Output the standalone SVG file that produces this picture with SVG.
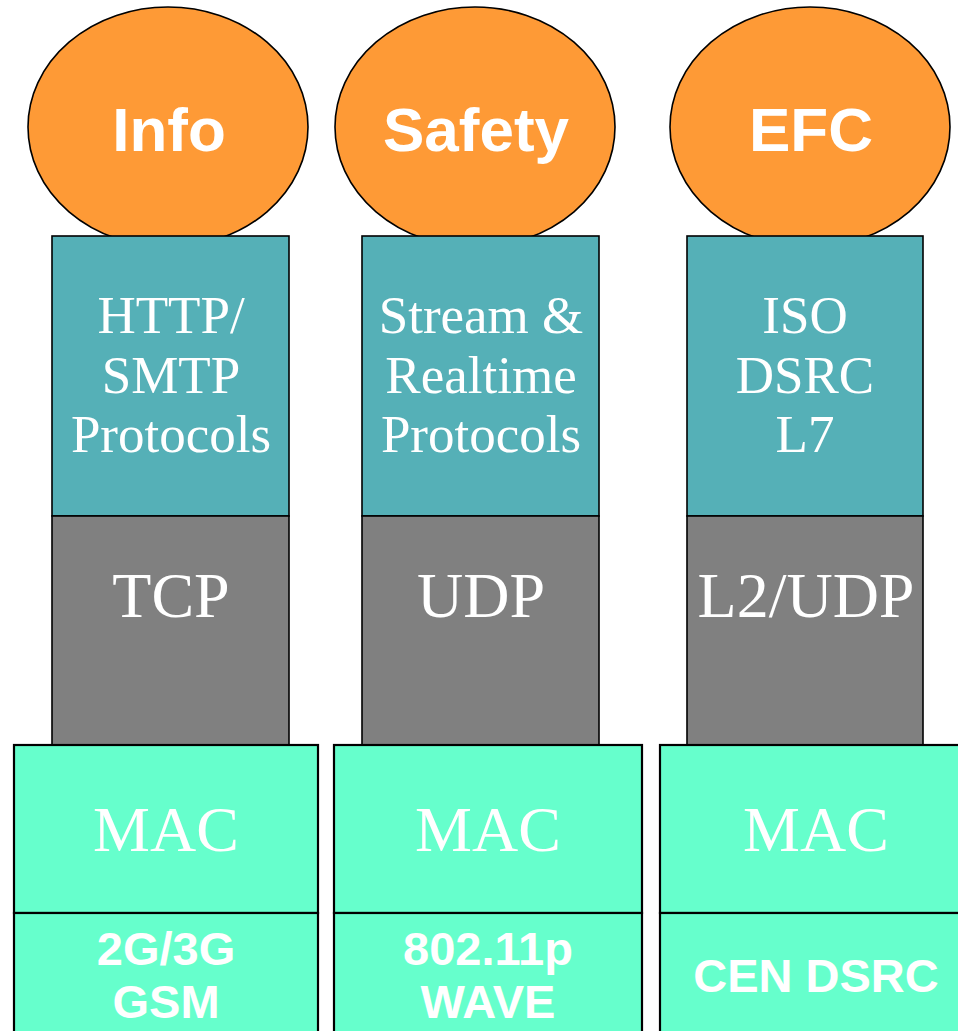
<svg xmlns="http://www.w3.org/2000/svg" width="958" height="1031" viewBox="0 0 958 1031">
<style>
.ell{fill:#FE9A36;stroke:#000;stroke-width:1.6}
.app{fill:#55B0B7;stroke:#000;stroke-width:1.6}
.tr{fill:#808080;stroke:#000;stroke-width:1.6}
.mac{fill:#66FFCC;stroke:#000;stroke-width:2.2}
.lbl{font-family:"Liberation Sans",Arial,sans-serif;font-weight:bold;font-size:62px;fill:#fff;text-anchor:middle}
.ser{font-family:"Liberation Serif","Times New Roman",serif;fill:#fff;text-anchor:middle}
.s52{font-size:53px}
.s64{font-size:64px}
.phy{font-family:"Liberation Sans",Arial,sans-serif;font-weight:bold;font-size:47px;fill:#fff;text-anchor:middle}
</style>
<rect width="958" height="1031" fill="#fff"/>
<g id="stack-info">
<ellipse class="ell" cx="168" cy="127" rx="140" ry="120"/>
<text class="lbl" x="169" y="151">Info</text>
<rect class="app" x="52" y="236" width="237" height="280"/>
<text class="ser s52" x="171" y="333">HTTP/</text>
<text class="ser s52" x="171" y="393">SMTP</text>
<text class="ser s52" x="171" y="452">Protocols</text>
<rect class="tr" x="52" y="516" width="237" height="229"/>
<text class="ser s64" x="171" y="617">TCP</text>
<rect class="mac" x="14" y="745" width="304" height="168"/>
<text class="ser s64" x="166" y="851">MAC</text>
<rect class="mac" x="14" y="913" width="304" height="130"/>
<text class="phy" x="166" y="965">2G/3G</text>
<text class="phy" x="166" y="1018">GSM</text>
</g>
<g id="stack-safety">
<ellipse class="ell" cx="475" cy="127" rx="140" ry="120"/>
<text class="lbl" x="476" y="151">Safety</text>
<rect class="app" x="362" y="236" width="237" height="280"/>
<text class="ser s52" x="481" y="333">Stream &amp;</text>
<text class="ser s52" x="481" y="393">Realtime</text>
<text class="ser s52" x="481" y="452">Protocols</text>
<rect class="tr" x="362" y="516" width="237" height="229"/>
<text class="ser s64" x="481" y="617">UDP</text>
<rect class="mac" x="334" y="745" width="308" height="168"/>
<text class="ser s64" x="488" y="851">MAC</text>
<rect class="mac" x="334" y="913" width="308" height="130"/>
<text class="phy" x="488" y="965">802.11p</text>
<text class="phy" x="488" y="1018">WAVE</text>
</g>
<g id="stack-efc">
<ellipse class="ell" cx="810" cy="127" rx="140" ry="120"/>
<text class="lbl" x="811" y="151">EFC</text>
<rect class="app" x="687" y="236" width="236" height="280"/>
<text class="ser s52" x="805" y="333">ISO</text>
<text class="ser s52" x="805" y="393">DSRC</text>
<text class="ser s52" x="805" y="452">L7</text>
<rect class="tr" x="687" y="516" width="236" height="229"/>
<text class="ser s64" x="806" y="617">L2/UDP</text>
<rect class="mac" x="660" y="745" width="312" height="168"/>
<text class="ser s64" x="816" y="851">MAC</text>
<rect class="mac" x="660" y="913" width="312" height="130"/>
<text class="phy" x="816" y="992">CEN DSRC</text>
</g>
<g id="connectors"/>
</svg>
